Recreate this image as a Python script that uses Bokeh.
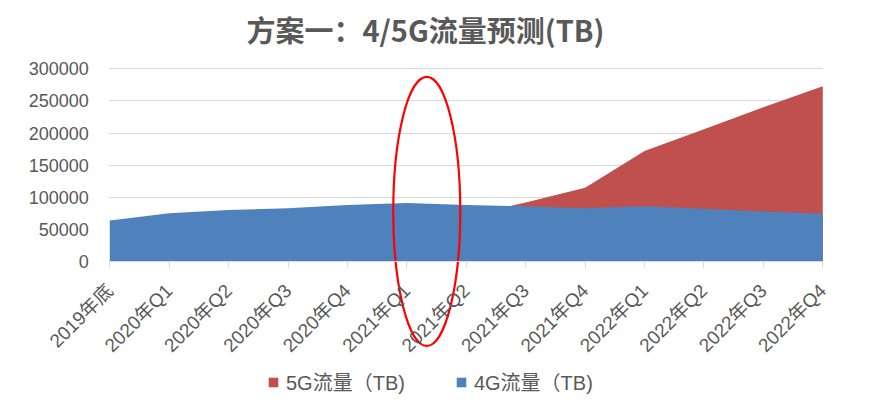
import math
from bokeh.plotting import figure
from bokeh.models import (Range1d, FixedTicker, Legend, LegendItem,
                          BasicTickFormatter)
from bokeh.embed import file_html
from bokeh.resources import INLINE

# ---- data ----
categories = ["2019年底", "2020年Q1", "2020年Q2", "2020年Q3", "2020年Q4",
              "2021年Q1", "2021年Q2", "2021年Q3", "2021年Q4",
              "2022年Q1", "2022年Q2", "2022年Q3", "2022年Q4"]
traffic_4g = [64000, 75000, 80000, 83000, 88000, 91000, 88000, 86000, 83000,
              86000, 82000, 78000, 74500]
traffic_5g = [0, 0, 0, 5000, 20000, 46000, 70000, 92000, 115000,
              172000, 206000, 240000, 273000]
y_ticks = [0, 50000, 100000, 150000, 200000, 250000, 300000]
series_names = ["5G流量（TB)", "4G流量（TB)"]
title_text = "方案一：4/5G流量预测(TB)"

# highlight ellipse (data units): center index, center value, width, height
ellipse_cx, ellipse_cy, ellipse_w, ellipse_h = 5.335, 78000, 1.128, 419000

RED = "#C0504D"
BLUE = "#4F81BD"
GRID = "#D9D9D9"
TXT = "#595959"
LAT = "'Liberation Sans', 'Noto Sans CJK SC'"

x = list(range(len(categories)))
n_last = len(categories) - 1

# The plotting frame covers the whole canvas below the title so that the
# highlight ellipse (which runs through the category labels) and the rotated
# labels are not clipped; both axes are pinned at value 0.
p = figure(width=871, height=402, output_backend="svg", toolbar_location=None,
           x_range=Range1d(-1.839, n_last + 0.82),
           y_range=Range1d(-219500, 320700),
           frame_width=871, frame_height=347,
           min_border_left=0, min_border_right=0, min_border_top=55,
           min_border_bottom=0)
p.outline_line_color = None
p.background_fill_color = "white"
p.border_fill_color = "white"

p.title.text = title_text
p.title.text_font = "'Noto Sans CJK SC'"
p.title.text_font_size = "29px"
p.title.text_font_style = "bold"
p.title.text_color = TXT
p.title.align = "left"
p.title.offset = 246
p.title.standoff = 11

r5 = p.varea(x=x, y1=[0] * len(x), y2=traffic_5g, fill_color=RED)
r4 = p.varea(x=x, y1=[0] * len(x), y2=traffic_4g, fill_color=BLUE)

# highlight ellipse
p.ellipse(x=[ellipse_cx], y=[ellipse_cy], width=ellipse_w, height=ellipse_h,
          fill_alpha=0, line_color="#FF0000", line_width=2.2)

# axes
xa = p.xaxis[0]
xa.fixed_location = 0
xa.bounds = (0, n_last)
xa.ticker = FixedTicker(ticks=x)
xa.major_label_overrides = {i: c for i, c in enumerate(categories)}
xa.major_label_orientation = math.pi / 4
xa.axis_line_color = GRID
xa.major_tick_line_color = GRID
xa.major_tick_out = 6
xa.major_tick_in = 0
xa.minor_tick_line_color = None
xa.major_label_text_font = LAT
xa.major_label_text_font_size = "19px"
xa.major_label_text_color = TXT
xa.major_label_standoff = 20

ya = p.yaxis[0]
ya.fixed_location = 0
ya.bounds = (y_ticks[0], y_ticks[-1])
ya.ticker = FixedTicker(ticks=y_ticks)
ya.formatter = BasicTickFormatter(use_scientific=False)
ya.axis_line_color = None
ya.major_tick_line_color = None
ya.minor_tick_line_color = None
ya.major_tick_out = 0
ya.major_tick_in = 0
ya.major_label_text_font = LAT
ya.major_label_text_font_size = "18px"
ya.major_label_text_color = TXT
ya.major_label_standoff = 21

p.xgrid.grid_line_color = None
p.ygrid.grid_line_color = GRID
p.ygrid.grid_line_width = 1
p.ygrid.cross_bounds = (0, n_last)

legend = Legend(items=[LegendItem(label=series_names[0], renderers=[r5]),
                       LegendItem(label=series_names[1], renderers=[r4])],
                orientation="horizontal", location=(267, 6),
                border_line_color=None, background_fill_alpha=0,
                label_text_font=LAT, label_text_font_size="20px",
                label_text_color=TXT, glyph_width=12, glyph_height=12,
                label_standoff=7, spacing=50, padding=4, margin=0)
p.add_layout(legend, "center")

open("out.html", "w").write(file_html(p, INLINE))
